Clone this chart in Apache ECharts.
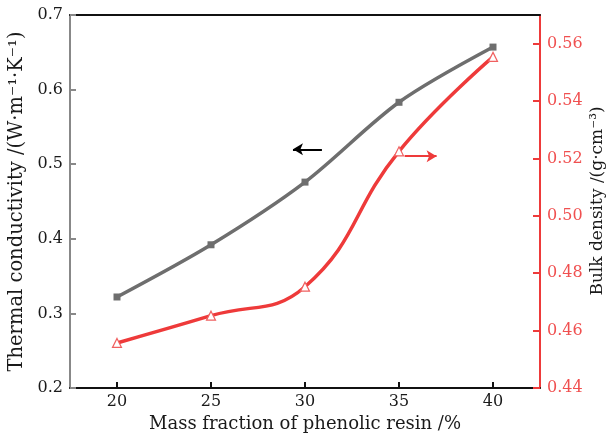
<!DOCTYPE html>
<html><head><meta charset="utf-8">
<script src="https://cdn.jsdelivr.net/npm/echarts@6/dist/echarts.min.js"></script>
<style>html,body{margin:0;padding:0;background:#fff}#c{width:608px;height:434px}</style>
</head><body><div id="c"></div>
<script>
const massFraction = [20, 25, 30, 35, 40];
const thermalConductivity = [0.322, 0.392, 0.476, 0.583, 0.657];
const bulkDensity = [0.4557, 0.4652, 0.4753, 0.5225, 0.5554];
const xTicks = [20, 25, 30, 35, 40];
const leftTicks = [0.2, 0.3, 0.4, 0.5, 0.6, 0.7];
const rightTicks = [0.44, 0.46, 0.48, 0.50, 0.52, 0.54, 0.56];
const leftArrow = [[30.9, 0.52], [29.36, 0.52]];
const rightArrow = [[35.3, 0.5208], [37.0, 0.5208]];
const rightTitle = 'Bulk density /(g·cm⁻³)';

const FONT = 'DejaVu Serif';
const GRAY = '#6e6e6e';
const RED = '#ee3a3a';
const chart = echarts.init(document.getElementById('c'));
chart.setOption({
  animation: false,
  grid: {left: 70, right: 68, top: 15, bottom: 46, containLabel: false, outerBoundsMode: 'none'},
  graphic: [{
    type: 'text', x: 598, y: 201, rotation: Math.PI / 2, silent: true,
    style: {text: rightTitle, font: '17px "DejaVu Serif"', fill: '#1a1a1a', align: 'center', verticalAlign: 'middle'}
  }],
  xAxis: [{
    type: 'value', min: 17.5, max: 42.5,
    name: 'Mass fraction of phenolic resin /%', nameLocation: 'middle', nameGap: 27,
    nameTextStyle: {fontFamily: FONT, fontSize: 18, color: '#1a1a1a'},
    axisLine: {show: true, lineStyle: {color: '#111', width: 2}},
    axisTick: {show: true, inside: true, length: 6, lineStyle: {color: '#111', width: 2}, customValues: xTicks},
    axisLabel: {fontFamily: FONT, fontSize: 16, color: '#1a1a1a', margin: 6, customValues: xTicks},
    splitLine: {show: false}
  }, {
    type: 'value', position: 'top', min: 17.5, max: 42.5,
    axisLine: {show: true, lineStyle: {color: '#111', width: 2}},
    axisTick: {show: false}, axisLabel: {show: false}, splitLine: {show: false}
  }],
  yAxis: [{
    type: 'value', min: 0.2, max: 0.7, interval: 0.1,
    name: 'Thermal conductivity /(W·m⁻¹·K⁻¹)', nameLocation: 'middle', nameGap: 36,
    nameTextStyle: {fontFamily: FONT, fontSize: 19.5, color: '#1a1a1a'},
    axisLine: {show: true, lineStyle: {color: '#888', width: 2}},
    axisTick: {show: true, inside: true, length: 6, lineStyle: {color: '#888', width: 2}, customValues: leftTicks},
    axisLabel: {fontFamily: FONT, fontSize: 16, color: '#1a1a1a', margin: 7, customValues: leftTicks,
      formatter: v => v.toFixed(1)},
    splitLine: {show: false}
  }, {
    type: 'value', min: 0.44, max: 0.57, position: 'right',
    axisLine: {show: true, lineStyle: {color: RED, width: 2}},
    axisTick: {show: true, inside: true, length: 7, lineStyle: {color: RED, width: 2}, customValues: rightTicks},
    axisLabel: {fontFamily: FONT, fontSize: 16, color: '#f05050', margin: 7, customValues: rightTicks,
      formatter: v => v.toFixed(2)},
    splitLine: {show: false}
  }],
  series: [{
    type: 'line', xAxisIndex: 0, yAxisIndex: 0,
    data: massFraction.map((x, i) => [x, thermalConductivity[i]]),
    smooth: 0.3, symbol: 'rect', symbolSize: 7,
    lineStyle: {color: GRAY, width: 3.5}, itemStyle: {color: GRAY},
    markLine: {silent: true, symbol: ['none', 'arrow'], symbolSize: [9, 10], label: {show: false},
      lineStyle: {color: '#000', width: 2, type: 'solid'},
      data: [[{coord: leftArrow[0]}, {coord: leftArrow[1]}]]}
  }, {
    type: 'line', xAxisIndex: 0, yAxisIndex: 1,
    data: massFraction.map((x, i) => [x, bulkDensity[i]]),
    smooth: 0.45, symbol: 'triangle', symbolSize: 9,
    lineStyle: {color: RED, width: 3.5}, itemStyle: {color: '#fff', borderColor: '#f06060', borderWidth: 1.2},
    markLine: {silent: true, symbol: ['none', 'arrow'], symbolSize: [9, 10], label: {show: false},
      lineStyle: {color: RED, width: 2, type: 'solid'},
      data: [[{coord: rightArrow[0]}, {coord: rightArrow[1]}]]}
  }]
});
</script></body></html>
